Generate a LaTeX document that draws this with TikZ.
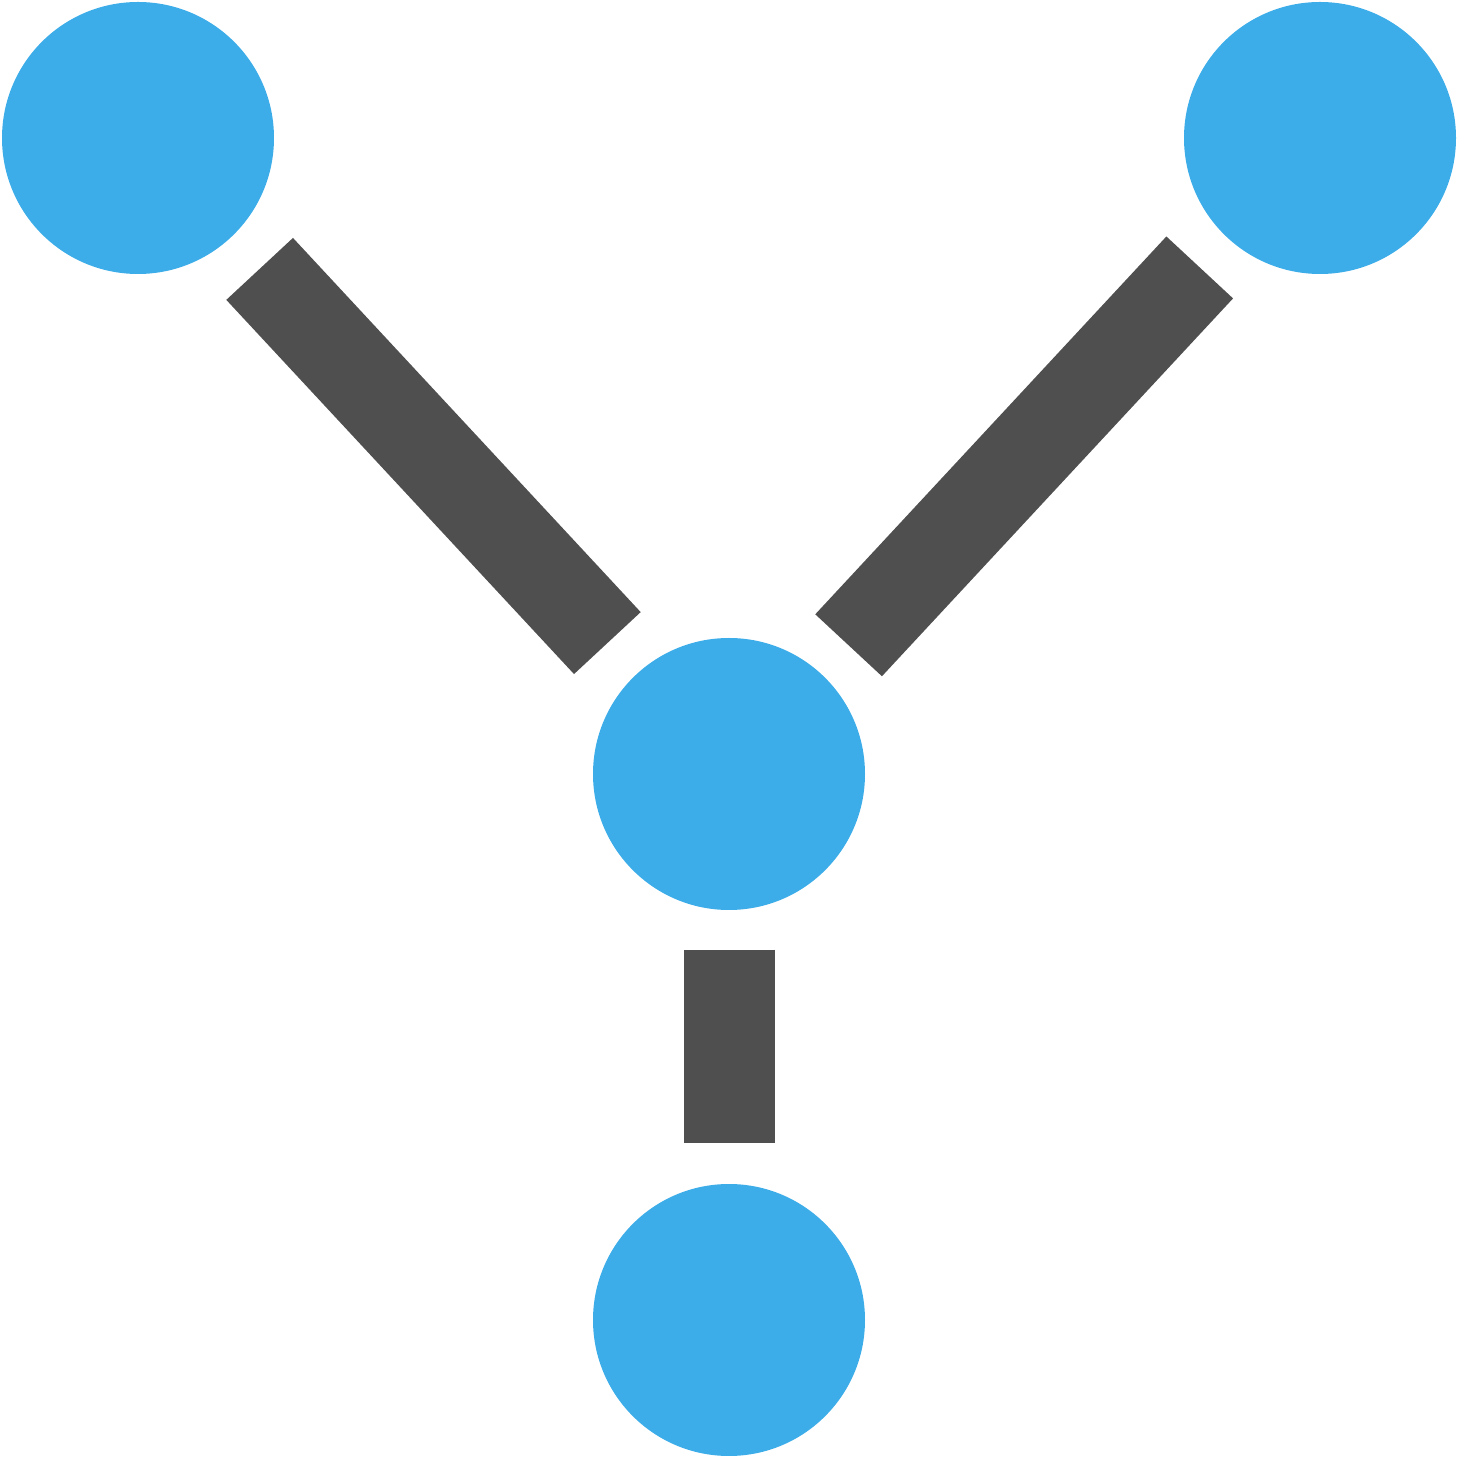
\documentclass[tikz,border=0pt]{standalone}
\usetikzlibrary{positioning}
\definecolor{nodeblue}{RGB}{61,173,233}
\definecolor{bargray}{RGB}{79,79,79}

\begin{document}
\begin{tikzpicture}[
    dot/.style={circle, fill=nodeblue, minimum size=2.72cm, inner sep=0pt},
    bar/.style={draw=bargray, line width=0.91cm, shorten >=0.42cm, shorten <=0.42cm}
]
\useasboundingbox (0,0) rectangle (14.57,14.57);

\node[dot] (hub) at (7.29,6.83) {};
\node[dot] (left) at (1.38,13.19) {};
\node[dot] (right) at (13.20,13.19) {};
\node[dot] (bottom) at (7.29,1.37) {};

\draw[bar] (left) -- (hub);
\draw[bar, shorten >=0.39cm, shorten <=0.40cm] (right) -- (hub);
\draw[bar, shorten >=0.40cm, shorten <=0.39cm] (hub) -- (bottom);

\end{tikzpicture}
\end{document}
